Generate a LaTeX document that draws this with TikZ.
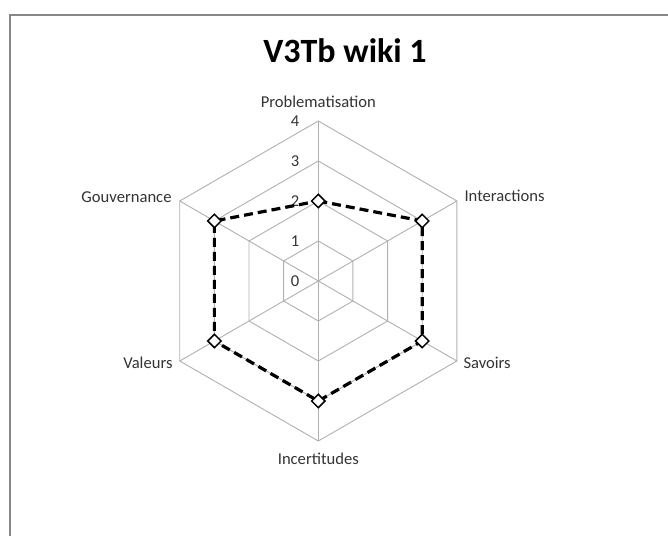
\documentclass[tikz,border=0pt]{standalone}
\usepackage{fontspec}
\setmainfont{Carlito}
\usetikzlibrary{shapes.geometric}
\definecolor{gridgray}{HTML}{B0B0B0}
\definecolor{framegray}{HTML}{888888}
\definecolor{labelgray}{HTML}{333333}

\begin{document}
\begin{tikzpicture}[x=1pt,y=1pt,
  gridline/.style={gridgray,line width=0.9pt},
  axislabel/.style={labelgray,font=\fontsize{16.6}{20}\selectfont,inner sep=0pt},
  valmark/.style={diamond,draw,fill=white,line width=1.5pt,minimum size=14pt,inner sep=0pt},
  serie/.style={line width=3.2pt,dash pattern=on 9pt off 5pt}]

\useasboundingbox (0,0) rectangle (668,535);
\draw[framegray,line width=1.5pt] (10,-5) -- (10,520) -- (690,520);

\node [font=\fontsize{34}{40}\selectfont\bfseries,anchor=base] (title) at (345,472) {V3Tb wiki 1};

\begin{scope}[shift={(318.3,254)}]
  % grid
  \foreach \r in {1,...,4}
    \draw[gridline] (90:\r*40) \foreach \a in {30,-30,-90,-150,150} {-- (\a:\r*40)} -- cycle;
  \foreach \a in {90,30,-30,-90,-150,150}
    \draw[gridline] (0,0) -- (\a:160);

  \foreach \r in {0,...,4}
    \node [axislabel] (n\r) at (-23.3,\r*40) {\r};

  \node [axislabel] (prob) at (0,179.3) {Problematisation};
  \node [axislabel,anchor=west] (inter) at (146,85) {Interactions};
  \node [axislabel,anchor=west] (sav) at (145,-82.3) {Savoirs};
  \node [axislabel] (incert) at (0,-177.3) {Incertitudes};
  \node [axislabel,anchor=east] (val) at (-145.6,-82) {Valeurs};
  \node [axislabel,anchor=east] (gouv) at (-146.6,84.3) {Gouvernance};

  % values
  \coordinate (vprob) at (90:80);
  \coordinate (vinter) at (30:120);
  \coordinate (vsav) at (-30:120);
  \coordinate (vincert) at (-90:120);
  \coordinate (vval) at (-150:120);
  \coordinate (vgouv) at (150:120);
  \draw[serie] (vprob) -- (vinter) -- (vsav) -- (vincert) -- (vval) -- (vgouv) -- cycle;
  \foreach \v in {vprob,vinter,vsav,vincert,vval,vgouv}
    \node [valmark] (m\v) at (\v) {};
\end{scope}

\end{tikzpicture}
\end{document}
